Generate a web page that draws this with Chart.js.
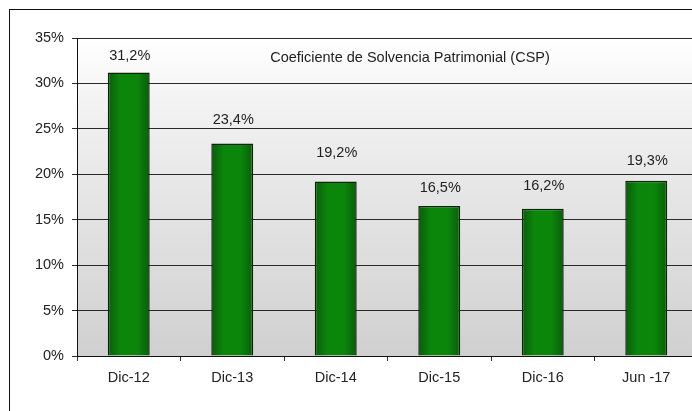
<!DOCTYPE html>
<html>
<head>
<meta charset="utf-8">
<script src="https://cdn.jsdelivr.net/npm/chart.js@4/dist/chart.umd.min.js"></script>
<style>
  html, body { margin: 0; padding: 0; background: #fff; overflow: hidden; width: 692px; height: 411px; }
  #frame { position: absolute; left: 9px; top: 9px; width: 720px; height: 420px; border: 1px solid #111; box-sizing: border-box; }
  #wrap { position: absolute; left: 0; top: 0; width: 720px; height: 411px; }
</style>
</head>
<body>
<div id="frame"></div>
<div id="wrap"><canvas id="c" width="720" height="411"></canvas></div>
<script>
// Periods and CSP values (percent)
const periods = ['Dic-12', 'Dic-13', 'Dic-14', 'Dic-15', 'Dic-16', 'Jun -17'];
const cspValues = [31.2, 23.4, 19.2, 16.5, 16.2, 19.3];
const valueLabels = ['31,2%', '23,4%', '19,2%', '16,5%', '16,2%', '19,3%'];
const yTicks = [0, 5, 10, 15, 20, 25, 30, 35];
const chartTitle = 'Coeficiente de Solvencia Patrimonial (CSP)';

const FONT = 'Liberation Sans, Arial, sans-serif';
const BAR_FRACTION = 0.405;

// Shaded plot background (white at top fading to grey)
const plotBackground = {
  id: 'plotBackground',
  beforeDraw(chart) {
    const { ctx, chartArea: a } = chart;
    const g = ctx.createLinearGradient(0, a.top, 0, a.bottom);
    g.addColorStop(0, '#ffffff');
    g.addColorStop(0.25, '#f0f0f0');
    g.addColorStop(1, '#d0d0d0');
    ctx.save();
    ctx.fillStyle = g;
    ctx.fillRect(a.left, a.top, a.right - a.left, a.bottom - a.top);
    ctx.restore();
  }
};

// Value labels above each bar plus the in-plot title
const annotations = {
  id: 'annotations',
  afterDatasetsDraw(chart) {
    const { ctx } = chart;
    const meta = chart.getDatasetMeta(0);
    ctx.save();
    ctx.fillStyle = '#222';
    ctx.font = '14.5px ' + FONT;
    ctx.textAlign = 'center';
    ctx.textBaseline = 'middle';
    const lift = [17, 23, 29, 18, 23, 20];
    meta.data.forEach((bar, i) => {
      ctx.fillText(valueLabels[i], bar.x + 1, bar.y - lift[i]);
    });
    ctx.fillText(chartTitle, 410, 58);
    ctx.restore();
  }
};

// Horizontal shading across each bar: darker edges, brighter middle
function barFill(context) {
  const chart = context.chart;
  const xs = chart.scales && chart.scales.x;
  const plain = '#0a7f0a';
  if (!xs || context.dataIndex === undefined || !(xs.width > 0)) return plain;
  const cx = xs.getPixelForValue(context.dataIndex);
  const w = (xs.width / periods.length) * BAR_FRACTION;
  if (!isFinite(cx) || !isFinite(w) || w <= 0) return plain;
  const g = chart.ctx.createLinearGradient(cx - w / 2, 0, cx + w / 2, 0);
  g.addColorStop(0, '#0a5c0a');
  g.addColorStop(0.3, '#0b860b');
  g.addColorStop(0.7, '#0b860b');
  g.addColorStop(1, '#0a5c0a');
  return g;
}

const chart = new Chart(document.getElementById('c'), {
  type: 'bar',
  data: {
    labels: periods,
    datasets: [{
      data: cspValues,
      backgroundColor: barFill,
      borderColor: '#0a240a',
      borderWidth: 1.5,
      barPercentage: BAR_FRACTION,
      categoryPercentage: 1
    }]
  },
  options: {
    responsive: false,
    animation: false,
    layout: { padding: { left: 0, top: 38, right: 22, bottom: 0 } },
    plugins: { legend: { display: false }, tooltip: { enabled: false } },
    scales: {
      x: {
        offset: true,
        afterFit(s) { s.height = 55; },
        grid: { offset: true, drawOnChartArea: false, drawTicks: true, tickLength: 5, color: '#333' },
        border: { color: '#111', width: 1 },
        ticks: { color: '#222', font: { family: FONT, size: 14.5 }, padding: 8 }
      },
      y: {
        min: 0,
        max: 35,
        afterFit(s) { s.width = 77; },
        afterBuildTicks(s) { s.ticks = yTicks.map(v => ({ value: v })); },
        grid: { color: '#2a2a2a', lineWidth: 1, drawTicks: true, tickLength: 5 },
        border: { color: '#111', width: 1 },
        ticks: { color: '#222', font: { family: FONT, size: 14.5 }, padding: 8, callback: v => v + '%' }
      }
    }
  },
  plugins: [plotBackground, annotations]
});
// second pass so the bar shading resolves against the laid-out scale
chart.update('none');
</script>
</body>
</html>
